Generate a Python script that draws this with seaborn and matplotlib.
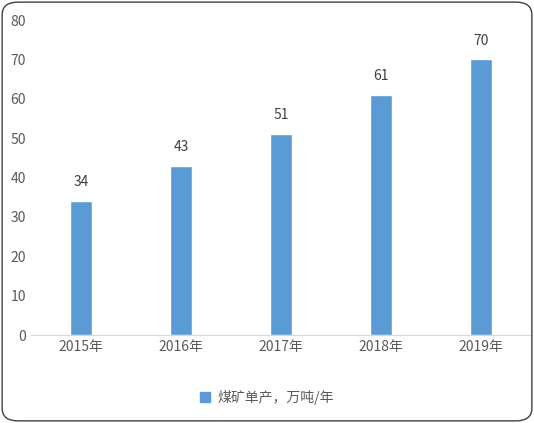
import matplotlib
matplotlib.use("Agg")
import matplotlib.pyplot as plt
import seaborn as sns
from matplotlib.patches import FancyBboxPatch, Patch

# Daten
jahre = ["2015年", "2016年", "2017年", "2018年", "2019年"]
werte = [34, 43, 51, 61, 70]
serie = "煤矿单产，万吨/年"

sns.set_style("white")
plt.rcParams["font.family"] = ["Noto Sans CJK SC", "DejaVu Sans"]

fig = plt.figure(figsize=(5.34, 4.23), dpi=100)
ax = fig.add_axes([31 / 534, 88 / 423, 500 / 534, 315 / 423])

sns.barplot(x=jahre, y=werte, color="#5b9bd5", width=0.22, saturation=1, ax=ax)

for i, v in enumerate(werte):
    ax.text(i, v + 3, str(v), ha="center", va="bottom", fontsize=10, color="#404040")

ax.set_ylim(0, 80)
ax.set_xlim(-0.5, 4.5)
ax.set_yticks(range(0, 81, 10))
ax.tick_params(axis="both", labelsize=10, colors="#595959", length=0)
for s in ["top", "right", "left"]:
    ax.spines[s].set_visible(False)
ax.spines["bottom"].set_color("#d9d9d9")
ax.set_xlabel("")
ax.set_ylabel("")

fig.legend(handles=[Patch(color="#5b9bd5")], labels=[serie], loc="center",
           bbox_to_anchor=(0.5, 1 - 397 / 423), frameon=False, fontsize=10,
           handlelength=0.7, handleheight=0.7, handletextpad=0.5, labelcolor="#595959")

rahmen = FancyBboxPatch((0.004, 0.005), 0.992, 0.99, boxstyle="round,pad=0,rounding_size=0.03",
                        transform=fig.transFigure, fill=False, edgecolor="#404040", linewidth=1)
fig.patches.append(rahmen)

fig.savefig("out.png", dpi=100)
